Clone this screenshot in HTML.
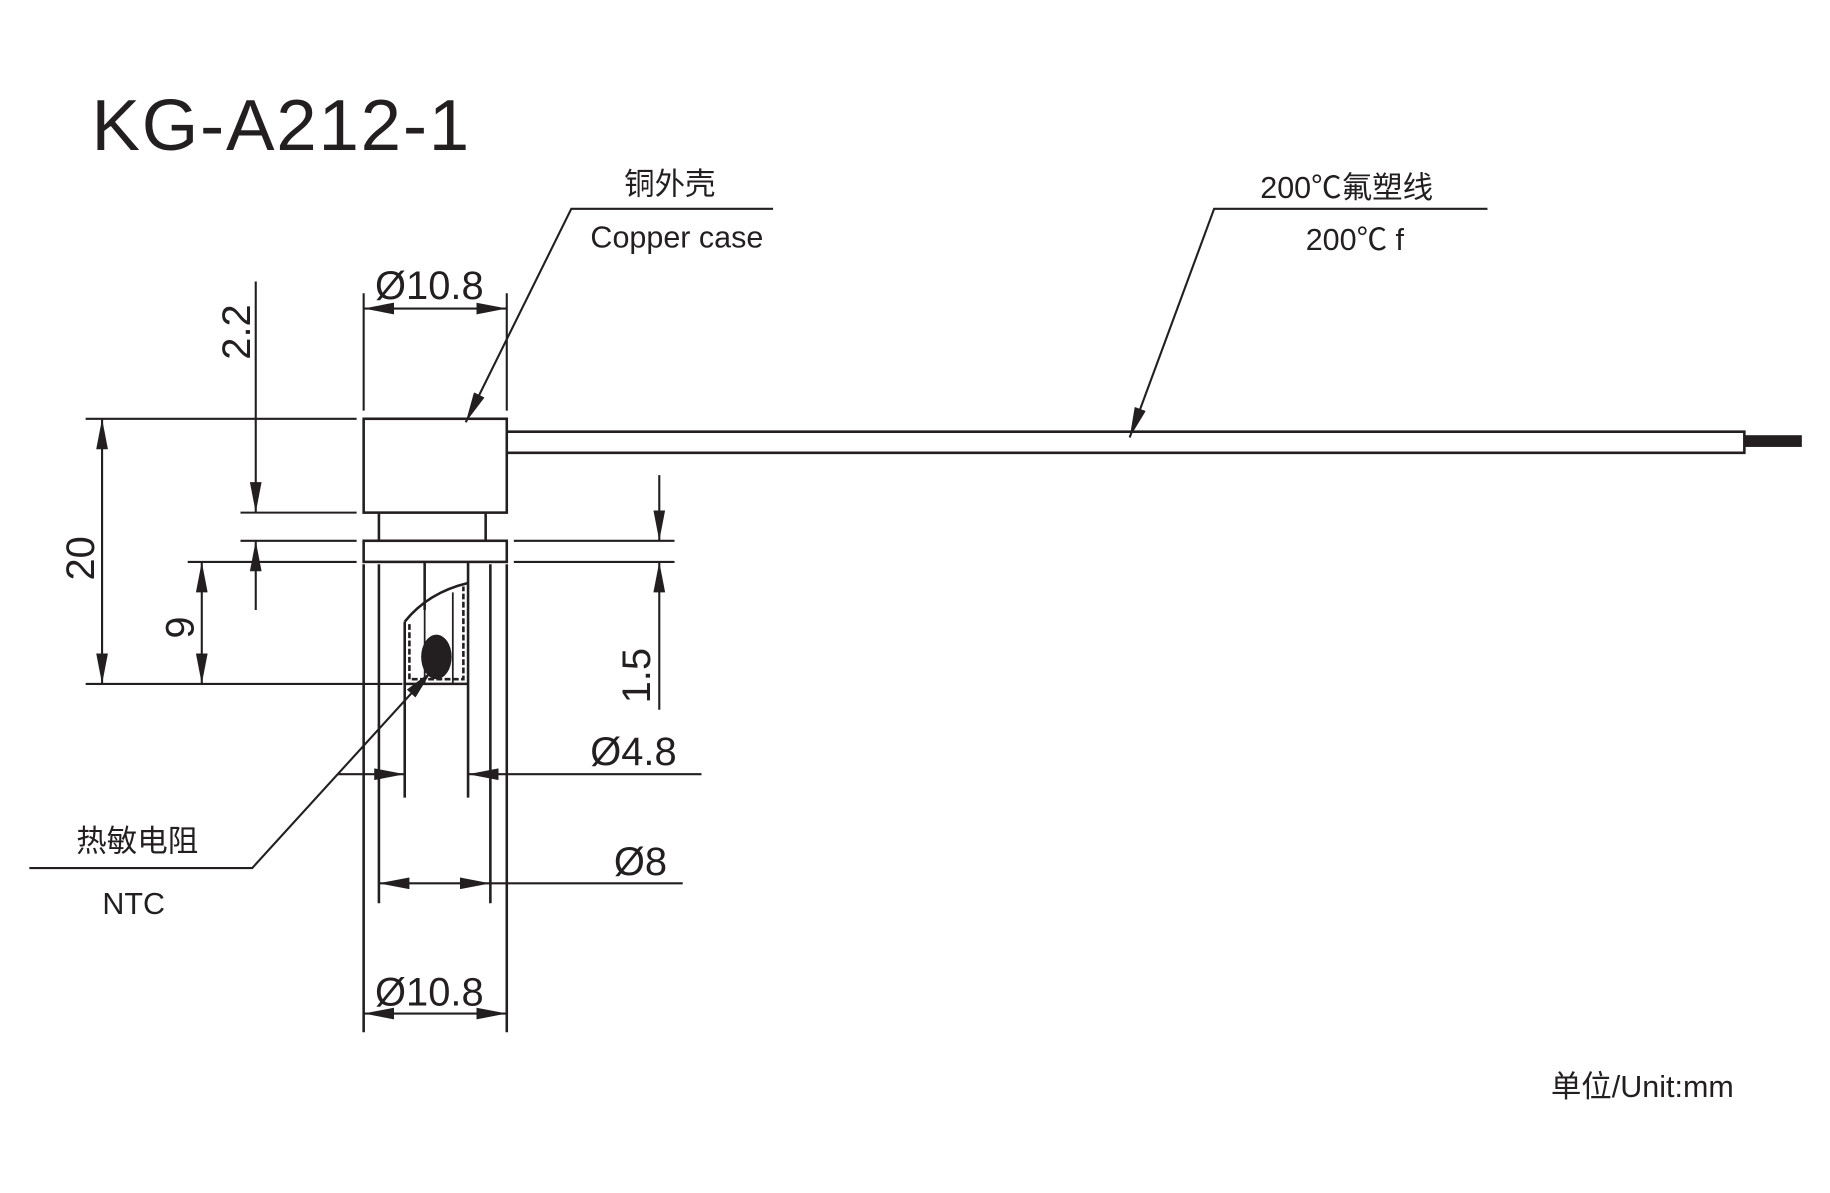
<!DOCTYPE html>
<html><head><meta charset="utf-8"><style>
html,body{margin:0;padding:0;background:#fff;width:1830px;height:1193px;overflow:hidden}
svg{display:block}
text{font-family:"Liberation Sans","Noto Sans CJK SC",sans-serif;fill:#231f20}
</style></head><body>
<svg width="1830" height="1193" viewBox="0 0 1560 1017" xmlns="http://www.w3.org/2000/svg">
<defs>
<marker id="a" viewBox="0 0 26 10" refX="26" refY="5" markerWidth="26" markerHeight="10" markerUnits="userSpaceOnUse" orient="auto"><path d="M0,0 L26,5 L0,10 z" fill="#231f20"/></marker>
<marker id="s" viewBox="0 0 26 10" refX="0" refY="5" markerWidth="26" markerHeight="10" markerUnits="userSpaceOnUse" orient="auto"><path d="M26,0 L0,5 L26,10 z" fill="#231f20"/></marker>
</defs>
<g stroke="#231f20" stroke-width="2.2" fill="none">
<rect x="310" y="357" width="122" height="80" fill="#fff"/>
<rect x="310" y="461" width="122" height="18"/>
<line x1="323" y1="437" x2="323" y2="461"/><line x1="414" y1="437" x2="414" y2="461"/>
<path d="M432,368 H1487 V386 H432"/>
<rect x="1487" y="371" width="49" height="10" fill="#231f20" stroke="none"/>
<line x1="310" y1="481" x2="310" y2="880"/><line x1="432" y1="481" x2="432" y2="880"/>
<line x1="323" y1="481" x2="323" y2="770"/><line x1="418" y1="481" x2="418" y2="770"/>
<line x1="345" y1="530" x2="345" y2="680"/><line x1="399" y1="497" x2="399" y2="680"/>
<line x1="362" y1="479" x2="362" y2="520"/><line x1="399" y1="479" x2="399" y2="497"/>
<path d="M345,530 Q365,505 399,497"/>
<line x1="345" y1="583" x2="399" y2="583"/>
<path d="M349,532 V579 H395 V500" stroke-dasharray="5,2"/>
<line x1="362" y1="520" x2="362" y2="583" stroke-width="1.5"/>
<line x1="386" y1="505" x2="386" y2="583" stroke-width="1.5"/>
</g>
<ellipse cx="372" cy="560" rx="13" ry="19" fill="#231f20"/>
<g stroke="#231f20" stroke-width="1.8" fill="none">
<line x1="310" y1="250" x2="310" y2="350"/><line x1="432" y1="250" x2="432" y2="350"/>
<line x1="310" y1="263" x2="432" y2="263" marker-start="url(#s)" marker-end="url(#a)"/>
<line x1="218" y1="240" x2="218" y2="437" marker-end="url(#a)"/>
<line x1="218" y1="520" x2="218" y2="461" marker-end="url(#a)"/>
<line x1="205" y1="437" x2="304" y2="437"/><line x1="205" y1="461" x2="304" y2="461"/>
<line x1="160" y1="479" x2="304" y2="479"/>
<line x1="73" y1="357" x2="304" y2="357"/><line x1="73" y1="583" x2="343" y2="583"/>
<line x1="87" y1="357" x2="87" y2="583" marker-start="url(#s)" marker-end="url(#a)"/>
<line x1="172" y1="479" x2="172" y2="583" marker-start="url(#s)" marker-end="url(#a)"/>
<line x1="438" y1="461" x2="575" y2="461"/><line x1="438" y1="479" x2="575" y2="479"/>
<line x1="562" y1="405" x2="562" y2="461" marker-end="url(#a)"/>
<line x1="562" y1="605" x2="562" y2="479" marker-end="url(#a)"/>
<line x1="288" y1="660" x2="345" y2="660" marker-end="url(#a)"/>
<line x1="598" y1="660" x2="399" y2="660" marker-end="url(#a)"/>
<line x1="323" y1="753" x2="418" y2="753" marker-start="url(#s)" marker-end="url(#a)"/>
<line x1="418" y1="753" x2="582" y2="753"/>
<line x1="310" y1="864" x2="432" y2="864" marker-start="url(#s)" marker-end="url(#a)"/>
<polyline points="659,178 487,178 397,360" marker-end="url(#a)"/>
<polyline points="1268,178 1035,178 963,373" marker-end="url(#a)"/>
<polyline points="25,740 215,740 368,572" marker-end="url(#a)"/>
</g>
<text x="78" y="128" font-size="62" textLength="322" lengthAdjust="spacing">KG-A212-1</text>
<text x="571" y="166" font-size="26" text-anchor="middle">铜外壳</text>
<text x="577" y="211" font-size="26" text-anchor="middle">Copper case</text>
<text x="1148" y="169" font-size="26" text-anchor="middle">200℃氟塑线</text>
<text x="1155" y="213" font-size="26" text-anchor="middle">200℃ f</text>
<text x="366" y="255" font-size="34" text-anchor="middle">Ø10.8</text>
<text x="540" y="652" font-size="34" text-anchor="middle">Ø4.8</text>
<text x="546" y="746" font-size="34" text-anchor="middle">Ø8</text>
<text x="366" y="857" font-size="34" text-anchor="middle">Ø10.8</text>
<text font-size="34" text-anchor="middle" transform="translate(213,283) rotate(-90)">2.2</text>
<text font-size="34" text-anchor="middle" transform="translate(80,476) rotate(-90)">20</text>
<text font-size="34" text-anchor="middle" transform="translate(165,535) rotate(-90)">9</text>
<text font-size="34" text-anchor="middle" transform="translate(554,576) rotate(-90)">1.5</text>
<text x="117" y="726" font-size="26" text-anchor="middle">热敏电阻</text>
<text x="114" y="779" font-size="26" text-anchor="middle">NTC</text>
<text x="1400" y="935" font-size="26" text-anchor="middle">单位/Unit:mm</text>
</svg>
</body></html>
